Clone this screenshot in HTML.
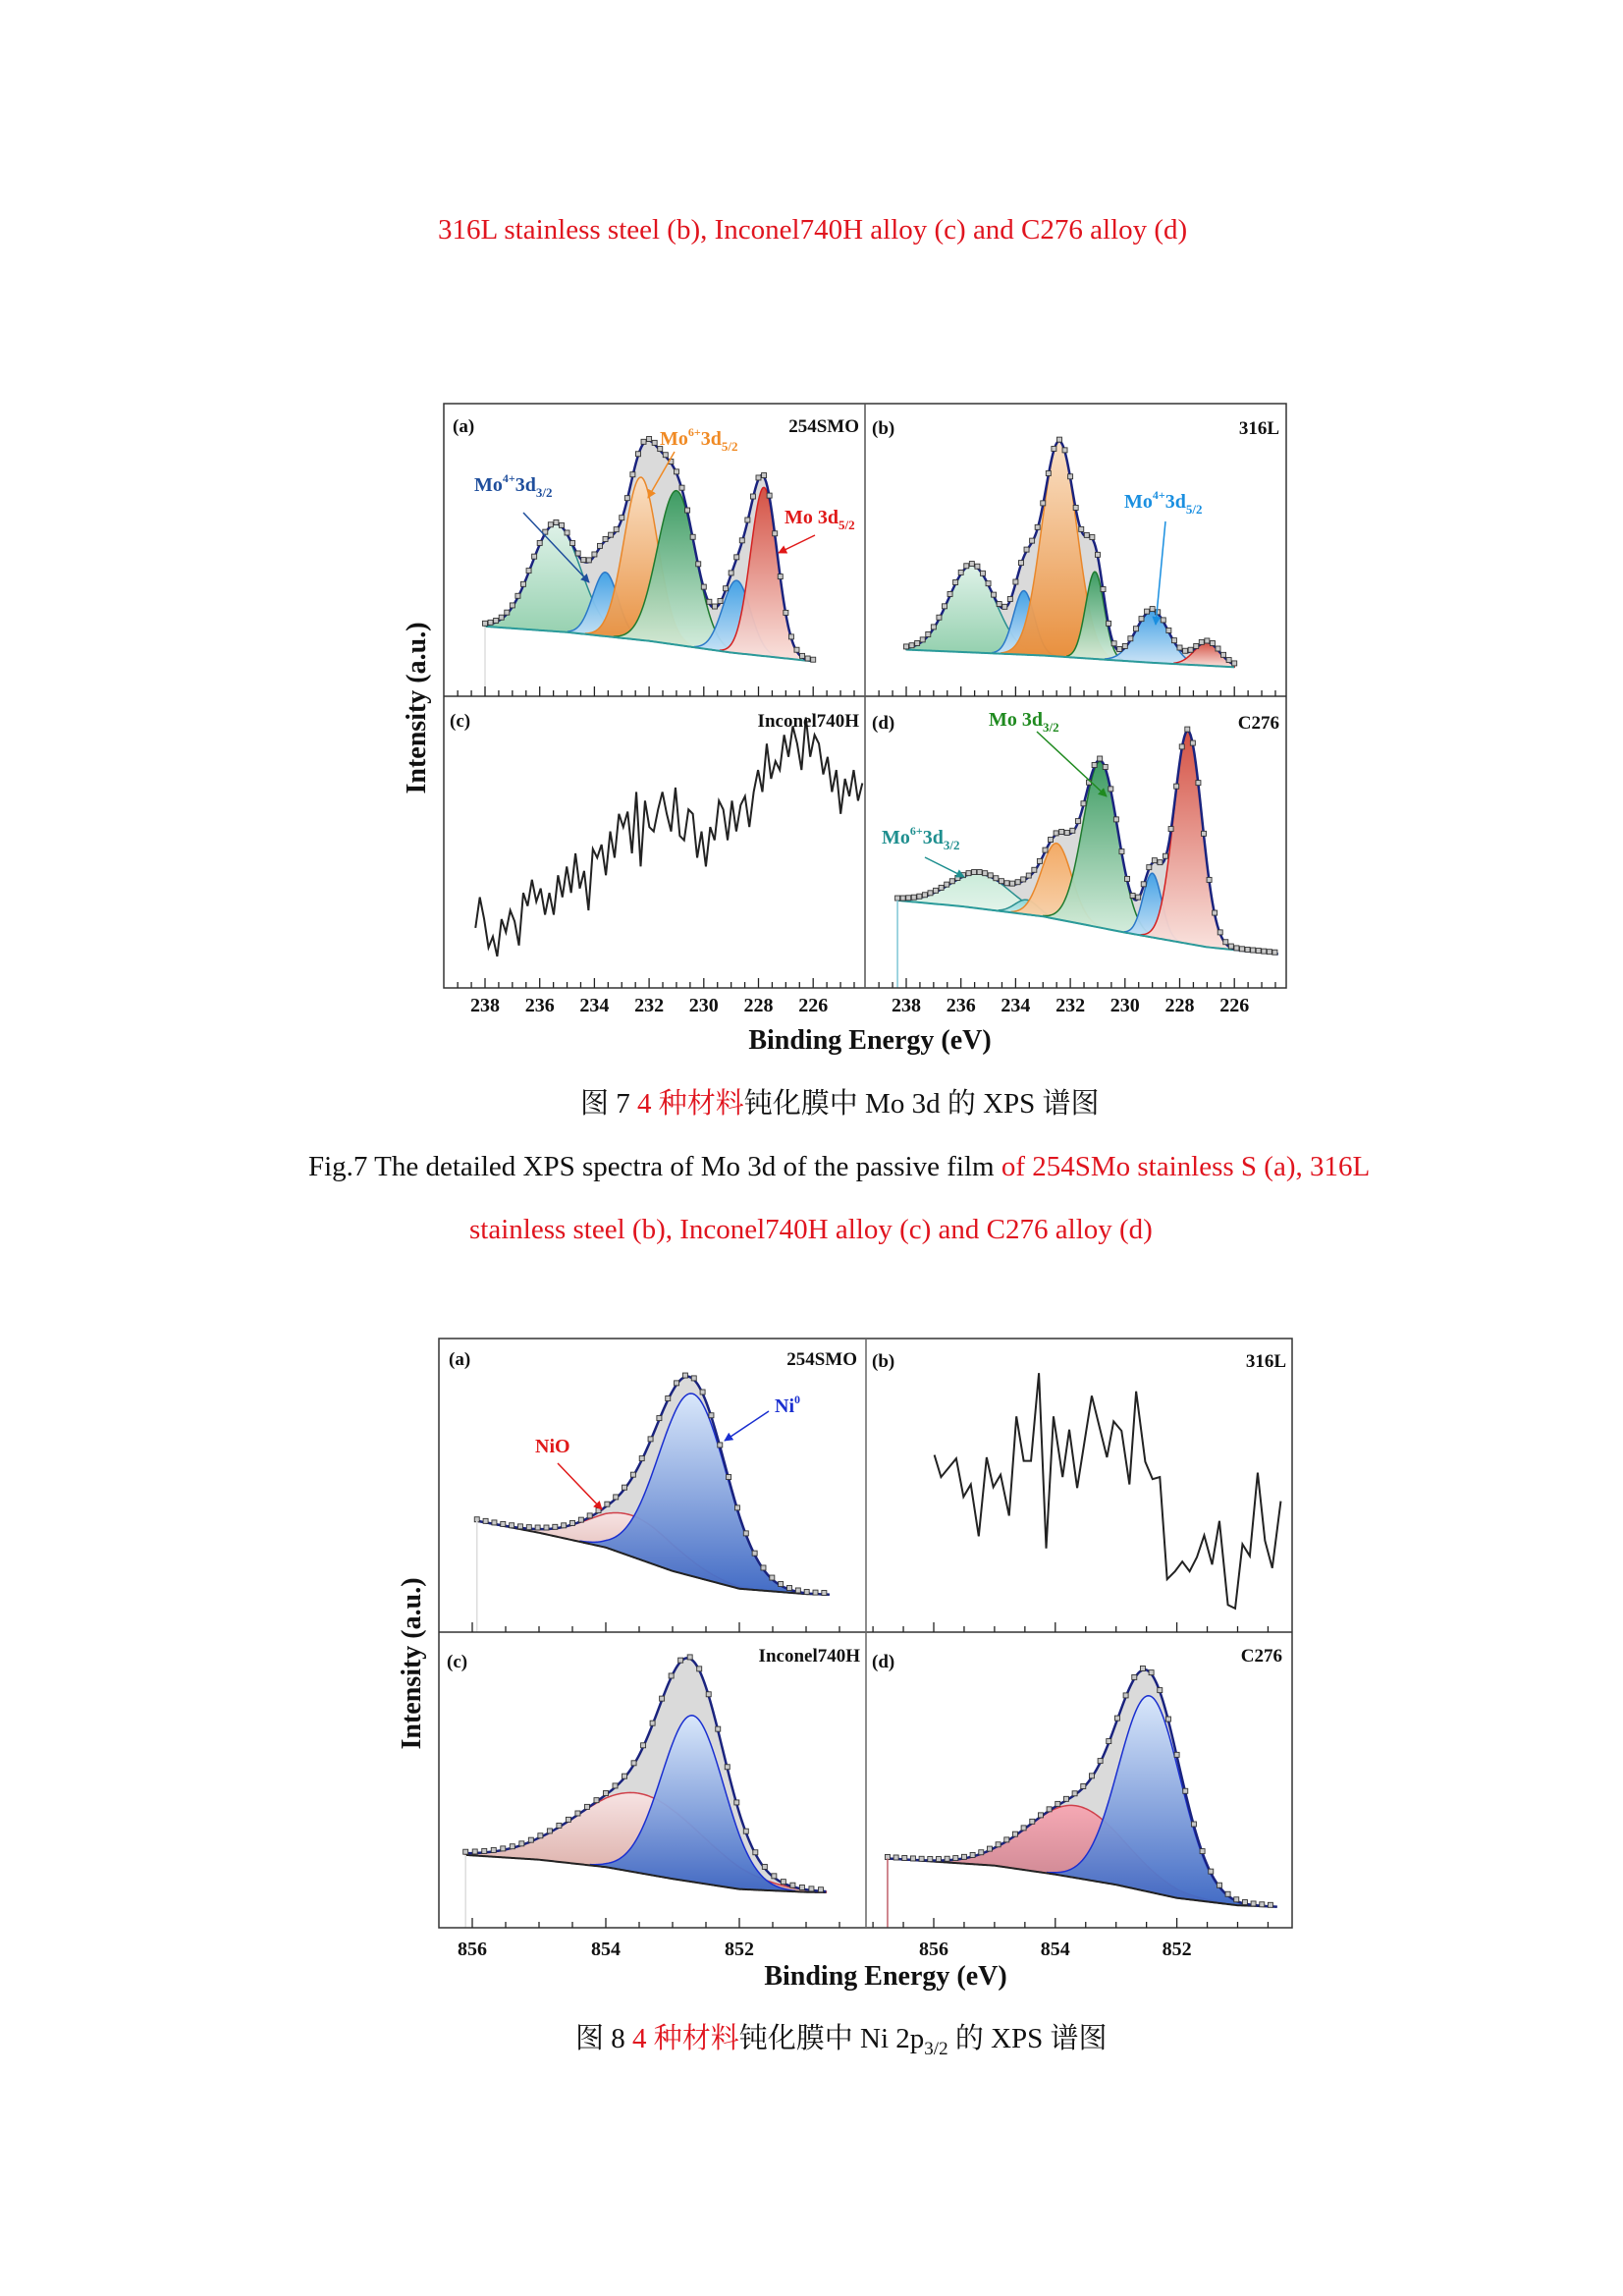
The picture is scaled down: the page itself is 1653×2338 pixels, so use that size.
<!DOCTYPE html>
<html><head><meta charset="utf-8">
<style>
body{margin:0;background:#fff;}
#page{position:relative;width:1653px;height:2338px;background:#fff;overflow:hidden;font-family:"Liberation Serif","Noto Serif CJK SC",serif;}
.cap{position:absolute;font-size:29px;color:#111;white-space:nowrap;}
.red{color:#e0141e;}
svg text{font-family:"Liberation Serif",serif;font-weight:bold;}
</style></head><body>
<div id="page">
<div class="cap red" style="left:446px;top:218px;">316L stainless steel (b), Inconel740H alloy (c) and C276 alloy (d)</div>
<div class="cap" style="left:591px;top:1101px;">图 7 <span class="red">4 种材料</span>钝化膜中 Mo 3d 的 XPS 谱图</div>
<div class="cap" style="left:314px;top:1172px;">Fig.7 The detailed XPS spectra of Mo 3d of the passive film <span class="red">of 254SMo stainless S (a), 316L</span></div>
<div class="cap red" style="left:478px;top:1236px;">stainless steel (b), Inconel740H alloy (c) and C276 alloy (d)</div>
<div class="cap" style="left:586px;top:2053px;">图 8 <span class="red">4 种材料</span>钝化膜中 Ni 2p<sub style="font-size:19px">3/2</sub> 的 XPS 谱图</div>
<svg id="chart" width="1653" height="2338" style="position:absolute;left:0;top:0">
<defs>
<linearGradient id="gLgreen" x1="0" y1="0" x2="0" y2="1"><stop offset="0" stop-color="#c9ecd9"/><stop offset="1" stop-color="#e9f7ef"/></linearGradient>
<linearGradient id="gLgreen2" x1="0" y1="0" x2="0" y2="1"><stop offset="0" stop-color="#dff3e9"/><stop offset="1" stop-color="#8fcfab"/></linearGradient>
<linearGradient id="gBlue" x1="0" y1="0" x2="0" y2="1"><stop offset="0" stop-color="#3d9fe6"/><stop offset="1" stop-color="#cfe6f8"/></linearGradient>
<linearGradient id="gOrange" x1="0" y1="0" x2="0" y2="1"><stop offset="0" stop-color="#fbe0c4"/><stop offset="1" stop-color="#e98b34"/></linearGradient>
<linearGradient id="gOrange2" x1="0" y1="0" x2="0" y2="1"><stop offset="0" stop-color="#f4a860"/><stop offset="1" stop-color="#f9d6b2"/></linearGradient>
<linearGradient id="gGreen" x1="0" y1="0" x2="0" y2="1"><stop offset="0" stop-color="#35985c"/><stop offset="1" stop-color="#d8f0e0"/></linearGradient>
<linearGradient id="gRed" x1="0" y1="0" x2="0" y2="1"><stop offset="0" stop-color="#d44a3c"/><stop offset="1" stop-color="#fbe3de"/></linearGradient>
<linearGradient id="gTeal" x1="0" y1="0" x2="0" y2="1"><stop offset="0" stop-color="#8ad6d6"/><stop offset="1" stop-color="#d9f2f2"/></linearGradient>
<linearGradient id="gNi" x1="0" y1="0" x2="0" y2="1"><stop offset="0" stop-color="#d9e8fc"/><stop offset="1" stop-color="#3b66c4"/></linearGradient>
<linearGradient id="gNiO" x1="0" y1="0" x2="0" y2="1"><stop offset="0" stop-color="#f8e3e3"/><stop offset="1" stop-color="#d7a29a"/></linearGradient>
<linearGradient id="gNiO2" x1="0" y1="0" x2="0" y2="1"><stop offset="0" stop-color="#f7a6b2"/><stop offset="1" stop-color="#c27a86"/></linearGradient>
<marker id="arr" viewBox="0 0 10 10" refX="9" refY="5" markerWidth="6" markerHeight="6" orient="auto-start-reverse"><path d="M0,0L10,5L0,10z" fill="context-stroke"/></marker>
</defs>
</svg>
</div>
<script>
// ===== Data: Mo 3d (Fig.7) =====
const moA_centers=[235.4,233.6,232.3,231.0,228.8,227.8];
const moA_heights=[37,22,56,53,25,58];
const moA_fwhm=[2.1,1.1,1.45,1.65,1.2,1.15];
const moA_bgE=[238,235,232,229,226];
const moA_bgI=[24,22,19,15,12];

const moB_centers=[235.6,233.7,232.4,231.1,229.0,227.0];
const moB_heights=[30,22,74,30,18,8];
const moB_fwhm=[2.0,0.9,1.5,0.8,1.4,1.1];
const moB_bgE=[238,233,229,226];
const moB_bgI=[16,14,11.5,10];

const moC_counts=[180,250,200,135,160,115,200,170,220,195,140,260,230,290,240,270,210,260,210,300,250,320,260,350,270,310,220,360,340,370,300,400,340,440,410,445,350,490,320,470,410,400,450,490,440,400,500,390,380,450,440,340,400,320,410,380,470,450,380,470,400,460,480,410,490,540,490,600,520,560,540,620,570,640,600,540,660,570,620,600,530,570,490,540,440,520,480,540,470,510];
const moC_start=238.35, moC_end=224.2;

const moD_centers=[235.3,233.6,232.5,230.9,229.0,227.7];
const moD_heights=[12,5,26,57,22,73];
const moD_fwhm=[2.6,1.0,1.3,1.5,0.8,1.2];
const moD_bgE=[238.32,236,233,230,227,224.4];
const moD_bgI=[30,28,24.5,19,14,11.6];

// ===== Data: Ni 2p3/2 (Fig.8) =====
const niA_centers=[853.6,852.7];
const niA_heights=[14,62];
const niA_fwhm=[1.5,1.2];
const niA_bgE=[855.93,855,854,853,852,851,850.65];
const niA_bgI=[38,34,29,21,15,13.2,13];

const niB_E=[855.99,855.88,855.63,855.51,855.39,855.26,855.13,855.02,854.90,854.76,854.64,854.52,854.40,854.27,854.15,854.03,853.88,853.77,853.64,853.40,853.15,853.04,852.91,852.78,852.67,852.52,852.40,852.28,852.16,852.03,851.91,851.79,851.67,851.55,851.42,851.30,851.16,851.04,850.92,850.80,850.67,850.55,850.43,850.29];
const niB_I=[60.4,52.9,59.2,46.2,50.4,32.8,59.6,49.5,53.7,39.8,73.5,58.4,58.4,88.2,28.7,73.5,52.9,69.0,49.2,80.5,59.6,71.8,68.6,50.4,82.0,58.1,52.2,52.9,18.2,20.9,24.2,20.9,25.7,33.1,23.2,38.0,9.5,8.3,30.1,26.1,54.4,31.3,22.0,44.7];

const niC_centers=[853.5,852.7];
const niC_heights=[27,56.5];
const niC_fwhm=[2.2,1.1];
const niC_bgE=[856.1,855,854,853,852,851,850.7];
const niC_bgI=[24.6,23,20.5,16.5,13,12,11.9];

const niD_centers=[853.65,852.45];
const niD_heights=[24.5,66.6];
const niD_fwhm=[1.9,1.2];
const niD_bgE=[856.76,855,854,853,852,851,850.35];
const niD_bgI=[23.4,21,18,14.5,10,7.5,7];

// ===== helpers =====
const svg=document.getElementById('chart');
const NS='http://www.w3.org/2000/svg';
function mk(tag,attrs,parent){const e=document.createElementNS(NS,tag);for(const k in attrs)e.setAttribute(k,attrs[k]);(parent||svg).appendChild(e);return e;}
function interp(xs,ys,x){
  if(x>=xs[0])return ys[0];
  for(let i=0;i<xs.length-1;i++){if(x<=xs[i]&&x>=xs[i+1]){const t=(xs[i]-x)/(xs[i]-xs[i+1]);return ys[i]+t*(ys[i+1]-ys[i]);}}
  return ys[ys.length-1];
}
function gauss(E,c,h,w){return h*Math.exp(-4*Math.LN2*(E-c)*(E-c)/(w*w));}

function makePanel(p){
  const g=mk('g',{});
  
  
  const cid='clip-'+p.name;
  const cp=mk('clipPath',{id:cid},g);mk('rect',{x:p.left,y:p.top,width:p.right-p.left,height:p.bottom-p.top},cp);
  const inner=mk('g',{'clip-path':'url(#'+cid+')'},g);
  return {g,inner};
}
function fitPanel(p,centers,heights,fwhm,bgE,bgI,fills,strokes,opts){
  const {g,inner}=makePanel(p);
  const N=300, E0=bgE[0], E1=bgE[bgE.length-1];
  const Es=[];for(let i=0;i<=N;i++)Es.push(E0+(E1-E0)*i/N);
  const bg=E=>interp(bgE,bgI,E);
  const tot=E=>{let s=bg(E);for(let k=0;k<centers.length;k++)s+=gauss(E,centers[k],heights[k],fwhm[k]);return s;};
  let d='M'+Es.map(E=>p.x(E)+','+p.y(tot(E))).join('L')+'L'+Es.slice().reverse().map(E=>p.x(E)+','+p.y(bg(E))).join('L')+'Z';
  const env=mk('path',{d,fill:'#dadada',stroke:'none'},inner);
  
  
  for(let k=0;k<centers.length;k++){
    const sub=Es.filter(E=>gauss(E,centers[k],heights[k],fwhm[k])>0.25);
    if(!sub.length)continue;
    const top=sub.map(E=>p.x(E)+','+p.y(bg(E)+gauss(E,centers[k],heights[k],fwhm[k])));
    const bot=sub.slice().reverse().map(E=>p.x(E)+','+p.y(bg(E)));
    const pk=mk('path',{d:'M'+top.join('L')+'L'+bot.join('L')+'Z',fill:'url(#'+fills[k]+')',stroke:strokes[k],'stroke-width':1.5,'fill-opacity':0.95},inner);
    
    
  }
  const bl=mk('path',{d:'M'+Es.map(E=>p.x(E)+','+p.y(bg(E))).join('L'),fill:'none',stroke:opts.bgColor,'stroke-width':2},inner);
  
  
  const el=mk('path',{d:'M'+Es.map(E=>p.x(E)+','+p.y(tot(E))).join('L'),fill:'none',stroke:'#1a237e','stroke-width':2.5},inner);
  
  
  const step=opts.markStep;
  for(let E=E0;E>=E1-1e-6;E-=step){
    const r=mk('rect',{x:p.x(E)-2.5,y:p.y(tot(E))-4,width:5,height:5,fill:'#c8c8c8',stroke:'#333','stroke-width':0.9},inner);
    
    
  }
  if(opts.vline){mk('line',{x1:p.x(E0),x2:p.x(E0),y1:p.y(bg(E0)),y2:p.bottom,stroke:opts.vline,'stroke-width':1.5},inner);}
  return g;
}
function linePanel(p,Es,Is){
  const {g,inner}=makePanel(p);
  const ln=mk('path',{d:'M'+Es.map((E,i)=>p.x(E)+','+p.y(Is[i])).join('L'),fill:'none',stroke:'#222','stroke-width':2},inner);
  
  
}
function ticks(p,lo,hi,labelY,labelled){
  for(let E=Math.ceil(lo);E<=hi;E+=0.5){
    const x=p.x(E);if(x<p.left+2||x>p.right-2)continue;
    const isMaj=(Math.abs(E%2)<1e-6);
    mk('line',{x1:x,x2:x,y1:p.bottom,y2:p.bottom-(isMaj?10:6),stroke:'#222','stroke-width':1.3});
    if(isMaj&&labelled){
      const t=mk('text',{x:x,y:labelY,'text-anchor':'middle','font-size':20,fill:'#111'});
      t.textContent=E;
      
      
    }
  }
}
function txt(x,y,s,size,color,anchor,name){
  const t=mk('text',{x,y,'font-size':size,fill:color,'text-anchor':anchor||'start'});
  t.innerHTML=s;
  
  
  return t;
}
function arrow(x1,y1,x2,y2,c){mk('line',{x1,y1,x2,y2,stroke:c,'stroke-width':1.5,'marker-end':'url(#arr)'});}

// ===== Fig 7 layout =====
const F1={l:452,r:1310,t:411,m:709,b:1006,v:881};
const k1=0.987;
const moPA={name:'panel-a-254smo',left:F1.l,right:F1.v,top:F1.t,bottom:F1.m,x:E=>494+(238-E)*27.85,y:I=>400+(313-3*I)*k1};
const moPB={name:'panel-b-316l',left:F1.v,right:F1.r,top:F1.t,bottom:F1.m,x:E=>923+(238-E)*27.85,y:I=>400+(313-3*I)*k1};
const moPC={name:'panel-c-inconel740h',left:F1.l,right:F1.v,top:F1.m,bottom:F1.b,x:E=>494+(238-E)*27.85,y:v=>400+(1400-v)/2.239};
const moPD={name:'panel-d-c276',left:F1.v,right:F1.r,top:F1.m,bottom:F1.b,x:E=>923+(238-E)*27.85,y:I=>400+(614-3.01*I)*k1};

fitPanel(moPA,moA_centers,moA_heights,moA_fwhm,moA_bgE,moA_bgI,['gLgreen2','gBlue','gOrange','gGreen','gBlue','gRed'],['#2a8f8f','#2a78c8','#e9872a','#1e7a2e','#2a78c8','#d42020'],{bgColor:'#2a9a9a',markStep:0.2,vline:'#ddd'});
fitPanel(moPB,moB_centers,moB_heights,moB_fwhm,moB_bgE,moB_bgI,['gLgreen2','gBlue','gOrange','gGreen','gBlue','gRed'],['#2a8f8f','#2a78c8','#e9872a','#1e7a2e','#2a78c8','#d42020'],{bgColor:'#2a9a9a',markStep:0.2});
const moCE=moC_counts.map((v,i)=>moC_start-(moC_start-moC_end)*i/(moC_counts.length-1));
linePanel(moPC,moCE,moC_counts);
fitPanel(moPD,moD_centers,moD_heights,moD_fwhm,moD_bgE,moD_bgI,['gLgreen','gTeal','gOrange2','gGreen','gBlue','gRed'],['#2a8f8f','#2a8f8f','#e9872a','#1e7a2e','#2a78c8','#d42020'],{bgColor:'#2a9a9a',markStep:0.2,vline:'#7fc6d6'});

mk('rect',{x:F1.l,y:F1.t,width:F1.r-F1.l,height:F1.b-F1.t,fill:'none',stroke:'#333','stroke-width':1.5});
mk('line',{x1:F1.l,x2:F1.r,y1:F1.m,y2:F1.m,stroke:'#333','stroke-width':1.5});
mk('line',{x1:F1.v,x2:F1.v,y1:F1.t,y2:F1.b,stroke:'#555','stroke-width':1.5});
ticks(moPA,222,242,0,false);ticks(moPB,222,242,0,false);
ticks(moPC,222,242,1030,true);ticks(moPD,222,242,1030,true);

txt(461,440,'(a)',19,'#111','start','panel-a-label');
txt(875,440,'254SMO',19,'#111','end','panel-a-title');
txt(888,442,'(b)',19,'#111','start','panel-b-label');
txt(1303,442,'316L',19,'#111','end','panel-b-title');
txt(458,740,'(c)',19,'#111','start','panel-c-label');
txt(875,740,'Inconel740H',19,'#111','end','panel-c-title');
txt(888,742,'(d)',19,'#111','start','panel-d-label');
txt(1303,742,'C276',19,'#111','end','panel-d-title');

txt(483,500,'Mo<tspan dy="-9" font-size="12">4+</tspan><tspan dy="9">3d</tspan><tspan dy="6" font-size="13">3/2</tspan>',20,'#1f4e9c','start','mo4-3d32-label');
arrow(533,522,600,593,'#1f4e9c');
txt(672,453,'Mo<tspan dy="-9" font-size="12">6+</tspan><tspan dy="9">3d</tspan><tspan dy="6" font-size="13">5/2</tspan>',20,'#f08a24','start','mo6-3d52-label');
arrow(687,460,660,507,'#f08a24');
txt(799,533,'Mo 3d<tspan dy="6" font-size="13">5/2</tspan>',20,'#e01818','start','mo-3d52-label');
arrow(830,545,793,563,'#e01818');
txt(1145,517,'Mo<tspan dy="-9" font-size="12">4+</tspan><tspan dy="9">3d</tspan><tspan dy="6" font-size="13">5/2</tspan>',20,'#1a8fe0','start','mo4-3d52-label');
arrow(1187,531,1177,636,'#1a8fe0');
txt(1007,739,'Mo 3d<tspan dy="6" font-size="13">3/2</tspan>',20,'#1f8a1f','start','mo-3d32-label');
arrow(1056,745,1127,811,'#1f8a1f');
txt(898,859,'Mo<tspan dy="-9" font-size="12">6+</tspan><tspan dy="9">3d</tspan><tspan dy="6" font-size="13">3/2</tspan>',20,'#1f8f8f','start','mo6-3d32-label');
arrow(942,873,982,893,'#1f8f8f');

txt(886,1068,'Binding Energy (eV)',28,'#111','middle','fig7-x-axis-title');
const yt1=txt(0,0,'Intensity (a.u.)',28,'#111','middle','fig7-y-axis-title');
yt1.setAttribute('transform','translate(433,721) rotate(-90)');

// ===== Fig 8 layout =====
const F2={l:447,r:1316,t:1363,m:1662,b:1963,v:882};
const k2=0.9866;
const niPA={name:'ni-panel-a-254smo',left:F2.l,right:F2.v,top:F2.t,bottom:F2.m,x:E=>481+(856-E)*68,y:I=>1350+(317-3.04*I)*k2};
const niPB={name:'ni-panel-b-316l',left:F2.v,right:F2.r,top:F2.t,bottom:F2.m,x:E=>951+(856-E)*61.9,y:I=>1350+(317-3.04*I)*k2};
const niPC={name:'ni-panel-c-inconel740h',left:F2.l,right:F2.v,top:F2.m,bottom:F2.b,x:E=>481+(856-E)*68,y:I=>1350+(621-3.04*I)*k2};
const niPD={name:'ni-panel-d-c276',left:F2.v,right:F2.r,top:F2.m,bottom:F2.b,x:E=>951+(856-E)*61.9,y:I=>1350+(621-3.04*I)*k2};

fitPanel(niPA,niA_centers,niA_heights,niA_fwhm,niA_bgE,niA_bgI,['gNiO','gNi'],['#d0404a','#1a2fd0'],{bgColor:'#222',markStep:0.13,vline:'#ddd'});
linePanel(niPB,niB_E,niB_I);
fitPanel(niPC,niC_centers,niC_heights,niC_fwhm,niC_bgE,niC_bgI,['gNiO','gNi'],['#d0404a','#1a2fd0'],{bgColor:'#222',markStep:0.14,vline:'#ddd'});
fitPanel(niPD,niD_centers,niD_heights,niD_fwhm,niD_bgE,niD_bgI,['gNiO2','gNi'],['#d0404a','#1a2fd0'],{bgColor:'#222',markStep:0.14,vline:'#c0606a'});

mk('rect',{x:F2.l,y:F2.t,width:F2.r-F2.l,height:F2.b-F2.t,fill:'none',stroke:'#333','stroke-width':1.5});
mk('line',{x1:F2.l,x2:F2.r,y1:F2.m,y2:F2.m,stroke:'#333','stroke-width':1.5});
mk('line',{x1:F2.v,x2:F2.v,y1:F2.t,y2:F2.b,stroke:'#666','stroke-width':1.5});
ticks(niPA,849,858,0,false);ticks(niPB,849,858,0,false);
ticks(niPC,849,858,1991,true);ticks(niPD,849,858,1991,true);

txt(457,1390,'(a)',19,'#111','start','ni-panel-a-label');
txt(873,1390,'254SMO',19,'#111','end','ni-panel-a-title');
txt(888,1392,'(b)',19,'#111','start','ni-panel-b-label');
txt(1310,1392,'316L',19,'#111','end','ni-panel-b-title');
txt(455,1698,'(c)',19,'#111','start','ni-panel-c-label');
txt(876,1692,'Inconel740H',19,'#111','end','ni-panel-c-title');
txt(888,1698,'(d)',19,'#111','start','ni-panel-d-label');
txt(1306,1692,'C276',19,'#111','end','ni-panel-d-title');
txt(789,1438,'Ni<tspan dy="-9" font-size="12">0</tspan>',20,'#1a2fd0','start','ni0-label');
arrow(783,1437,738,1467,'#1a2fd0');
txt(545,1479,'NiO',20,'#e01818','start','nio-label');
arrow(568,1490,613,1537,'#e01818');

txt(902,2021,'Binding Energy (eV)',28,'#111','middle','fig8-x-axis-title');
const yt2=txt(0,0,'Intensity (a.u.)',28,'#111','middle','fig8-y-axis-title');
yt2.setAttribute('transform','translate(428,1694) rotate(-90)');
</script>
</body></html>
